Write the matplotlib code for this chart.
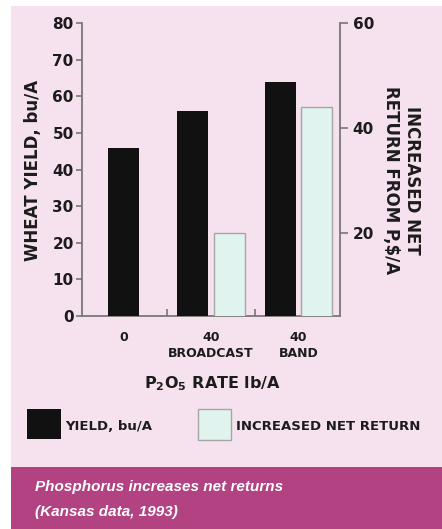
import matplotlib
matplotlib.use("Agg")
import matplotlib.pyplot as plt
from matplotlib.patches import Rectangle

# ---- data ----
categories = ["0", "40\nBROADCAST", "40\nBAND"]
yield_bu = [46, 56, 64]
net_return = [None, 20, 44]
left_ticks = [0, 10, 20, 30, 40, 50, 60, 70, 80]
right_ticks = [20, 40, 60]

W, H = 442, 529
plt.rcParams["font.family"] = ["DejaVu Sans"]
plt.rcParams["mathtext.fontset"] = "custom"
plt.rcParams["mathtext.bf"] = "DejaVu Sans:bold"
plt.rcParams["mathtext.rm"] = "DejaVu Sans:bold"

fig = plt.figure(figsize=(W / 100, H / 100), dpi=100, facecolor="white")

def fx(px):
    return px / W

def fy(py):
    return 1 - py / H

PINK = "#f6e2ee"
MAGENTA = "#b24282"
BLACK = "#111111"
LIGHT = "#e1f3ee"
SPINE = "#777777"
TXT = "#1c1c1c"

# background panels
fig.patches.append(Rectangle((fx(11), fy(467)), 1 - fx(11), fy(6) - fy(467),
                             transform=fig.transFigure, facecolor=PINK, edgecolor="none", zorder=-10))
fig.patches.append(Rectangle((fx(11), 0), 1 - fx(11), fy(467),
                             transform=fig.transFigure, facecolor=MAGENTA, edgecolor="none", zorder=-10))

ax = fig.add_axes([fx(82), fy(316), fx(340) - fx(82), fy(23.3) - fy(316)])
ax.set_facecolor("none")
ax2 = ax.twinx()
ax2.set_facecolor("none")

bw = 0.354
off = 0.21
for i, (yv, nv) in enumerate(zip(yield_bu, net_return)):
    has_net = nv is not None
    xy = i - off if has_net else i
    ax.bar(xy, yv, width=bw, color=BLACK, edgecolor="none", zorder=3)
    if has_net:
        ax2.bar(i + off, nv, width=bw, color=LIGHT, edgecolor="#a6a6a6", linewidth=1.0, zorder=3)

ax.set_xlim(-0.474, 2.474)
ax.set_ylim(0, 80)
ax2.set_ylim(4.2, 60)

for a in (ax, ax2):
    a.spines["top"].set_visible(False)
    for s in a.spines.values():
        s.set_color(SPINE)
        s.set_linewidth(1.3)
ax.spines["right"].set_visible(False)
ax2.spines["left"].set_visible(False)
ax2.spines["bottom"].set_visible(False)

ax.set_yticks(left_ticks)
ax.set_yticklabels([str(t) for t in left_ticks], fontsize=11, fontweight="bold", color=TXT)
ax.tick_params(axis="y", direction="out", length=4, width=1.2, color=SPINE, pad=2)

ax2.set_yticks(right_ticks)
ax2.set_yticklabels([str(t) for t in right_ticks], fontsize=11, fontweight="bold", color=TXT)
ax2.tick_params(axis="y", direction="out", length=6, width=1.2, color=SPINE, pad=3)

ax.set_xticks(range(len(categories)))
ax.set_xticklabels(categories, fontsize=9, fontweight="bold", color=TXT, linespacing=1.3)
ax.tick_params(axis="x", length=0, pad=11)
ax.set_xticks([0.5, 1.5], minor=True)
ax.tick_params(axis="x", which="minor", direction="in", length=5, width=1.2, color=SPINE)

# axis titles
fig.text(fx(33), fy(170), "WHEAT YIELD, bu/A", rotation=90, ha="center", va="center",
         fontsize=12, fontweight="bold", color=TXT)
fig.text(fx(401.5), fy(180), "INCREASED NET\nRETURN FROM P,$/A", rotation=-90, ha="center",
         va="center", multialignment="center", fontsize=12, fontweight="bold", color=TXT,
         linespacing=1.25)
fig.text(fx(212), fy(384), r"P$_\mathbf{2}$O$_\mathbf{5}$ RATE lb/A", ha="center", va="center",
         fontsize=11.5, fontweight="bold", color=TXT)

# legend
fig.patches.append(Rectangle((fx(27), fy(439)), fx(61) - fx(27), fy(409) - fy(439),
                             transform=fig.transFigure, facecolor=BLACK, edgecolor="none"))
fig.text(fx(65), fy(427), "YIELD, bu/A", ha="left", va="center", fontsize=9.5,
         fontweight="bold", color=TXT)
fig.patches.append(Rectangle((fx(198), fy(439.5)), fx(231) - fx(198), fy(408.5) - fy(439.5),
                             transform=fig.transFigure, facecolor=LIGHT, edgecolor="#a6a6a6",
                             linewidth=1.0))
fig.text(fx(236), fy(427), "INCREASED NET RETURN", ha="left", va="center", fontsize=9.5,
         fontweight="bold", color=TXT)

# caption
cap_font = ["Liberation Sans", "DejaVu Sans"]
fig.text(fx(35), fy(487), "Phosphorus increases net returns", ha="left", va="center",
         fontsize=11, fontweight="bold", style="italic", color="white", family=cap_font)
fig.text(fx(35), fy(512), "(Kansas data, 1993)", ha="left", va="center",
         fontsize=11, fontweight="bold", style="italic", color="white", family=cap_font)

fig.savefig("out.png", dpi=100, facecolor="white")
